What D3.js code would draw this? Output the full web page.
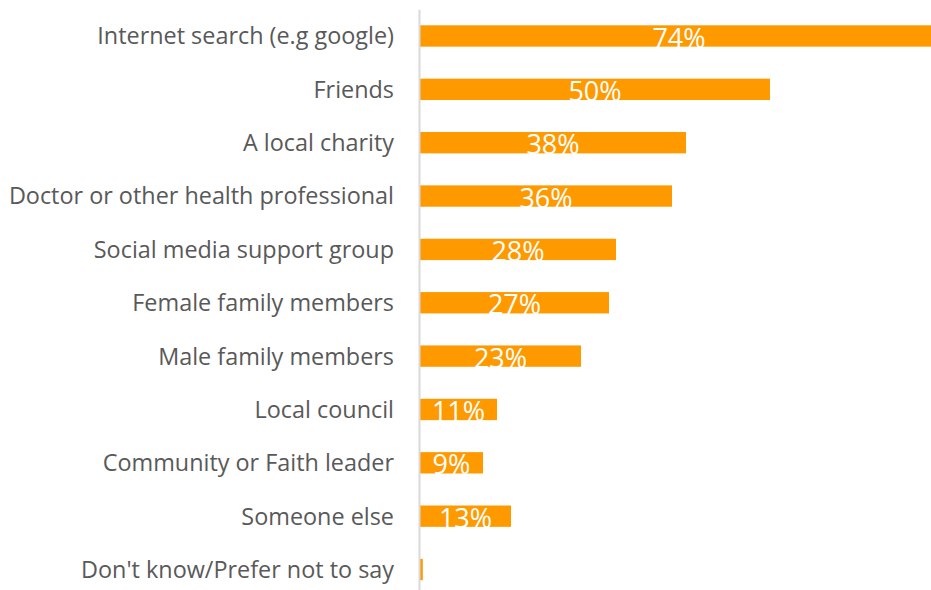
<!DOCTYPE html>
<html>
<head>
<meta charset="utf-8">
<script src="https://cdn.jsdelivr.net/npm/d3@7"></script>
<style>
  html, body { margin: 0; padding: 0; background: #ffffff; }
  svg { display: block; }
</style>
</head>
<body>
<svg id="chart" width="931" height="590"></svg>
<script>
// Sources of information, share of respondents (%)
const categories = [
  "Internet search (e.g google)",
  "Friends",
  "A local charity",
  "Doctor or other health professional",
  "Social media support group",
  "Female family members",
  "Male family members",
  "Local council",
  "Community or Faith leader",
  "Someone else",
  "Don't know/Prefer not to say"
];
const values = [74, 50, 38, 36, 28, 27, 23, 11, 9, 13, 0.4];
const valueLabels = ["74%", "50%", "38%", "36%", "28%", "27%", "23%", "11%", "9%", "13%", ""];

const svg = d3.select("#chart");
const axisX = 419;

const y = d3.scaleBand()
  .domain(categories)
  .range([9.3, 596.2])
  .paddingInner(0.6)
  .paddingOuter(0.3);

const x = d3.scaleLinear()
  .domain([0, 74])
  .range([420, 938]);

// Bars
svg.append("g")
  .selectAll("rect")
  .data(categories)
  .join("rect")
  .attr("x", x(0))
  .attr("y", d => y(d))
  .attr("width", (d, i) => x(values[i]) - x(0))
  .attr("height", y.bandwidth())
  .attr("fill", "#FF9900");

// Value labels, centred in each bar
svg.append("g")
  .selectAll("text")
  .data(categories)
  .join("text")
  .attr("x", (d, i) => (x(0) + x(values[i])) / 2)
  .attr("y", d => y(d) + y.bandwidth() + 1)
  .attr("text-anchor", "middle")
  .attr("font-family", "'Open Sans', sans-serif")
  .attr("font-size", 27)
  .attr("fill", "#ffffff")
  .text((d, i) => valueLabels[i]);

// Category axis
const axis = svg.append("g")
  .attr("transform", `translate(${axisX},0)`)
  .call(d3.axisLeft(y).tickSize(0).tickPadding(25));

axis.select(".domain")
  .attr("stroke", "#D9D9D9")
  .attr("stroke-width", 2);

axis.selectAll(".tick text")
  .attr("font-family", "'Open Sans', sans-serif")
  .attr("font-size", 23.4)
  .attr("fill", "#595959")
  .attr("dy", "0.36em");
</script>
</body>
</html>
